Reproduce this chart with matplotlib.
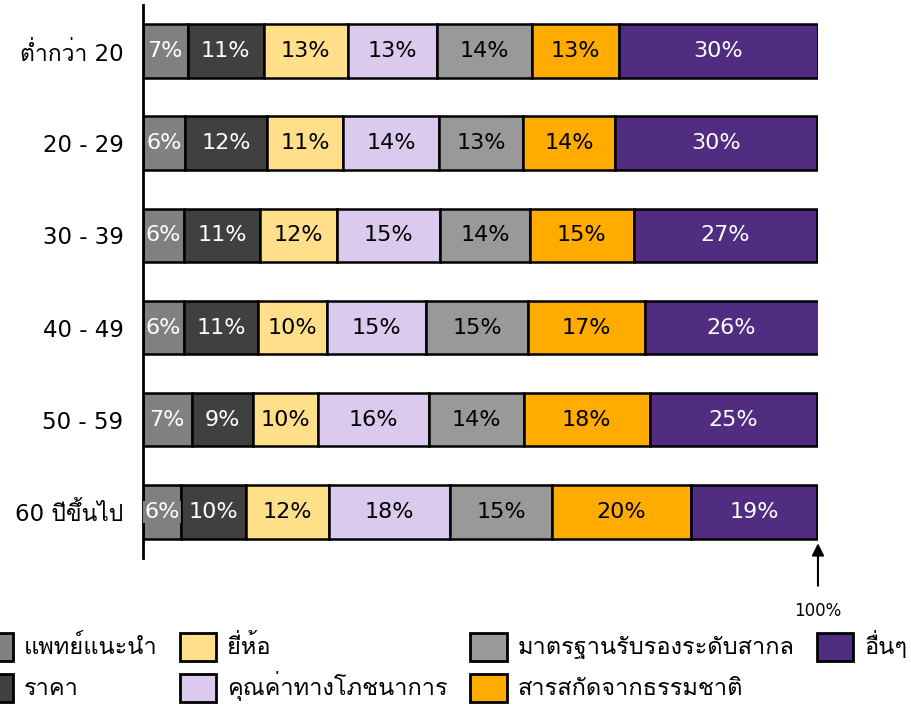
import matplotlib
matplotlib.use('Agg')
import matplotlib.pyplot as plt
from matplotlib import font_manager
from matplotlib.container import BarContainer
from matplotlib.legend_handler import HandlerPatch
from matplotlib.patches import Rectangle
from fontTools.ttLib import TTFont

# หา font ที่มีตัวอักษรไทย
thai_fonts = []
for f in font_manager.fontManager.ttflist:
    try:
        cmap = TTFont(f.fname, fontNumber=0, lazy=True).getBestCmap()
        if cmap and 0x0E01 in cmap and f.name not in thai_fonts:
            thai_fonts.append(f.name)
    except Exception:
        pass
plt.rcParams['font.family'] = ['DejaVu Sans'] + thai_fonts[:1]

groups = ['ต่ำกว่า 20', '20 - 29', '30 - 39', '40 - 49', '50 - 59', '60 ปีขึ้นไป']
factors = ['แพทย์แนะนำ', 'ราคา', 'ยี่ห้อ', 'คุณค่าทางโภชนาการ',
           'มาตรฐานรับรองระดับสากล', 'สารสกัดจากธรรมชาติ', 'อื่นๆ']
colors = ['#808080', '#404040', '#FFDF8A', '#DACAEE', '#999999', '#FFAB00', '#502D80']
text_colors = ['white', 'white', 'black', 'black', 'black', 'black', 'white']

# bar widths (%), one list per factor
shares = [
    [6.6, 6.2, 6.1, 6.1, 7.2, 5.7],
    [11.3, 12.2, 11.2, 10.9, 9.1, 9.6],
    [12.4, 11.3, 11.4, 10.2, 9.7, 12.2],
    [13.2, 14.1, 15.3, 14.8, 16.3, 18.0],
    [14.1, 12.5, 13.3, 15.0, 14.1, 15.1],
    [12.9, 13.6, 15.4, 17.3, 18.7, 20.6],
    [29.5, 30.0, 27.2, 25.8, 24.8, 18.6],
]
# labels printed on the bars
shown = [
    [7, 6, 6, 6, 7, 6],
    [11, 12, 11, 11, 9, 10],
    [13, 11, 12, 10, 10, 12],
    [13, 14, 15, 15, 16, 18],
    [14, 13, 14, 15, 14, 15],
    [13, 14, 15, 17, 18, 20],
    [30, 30, 27, 26, 25, 19],
]

fig = plt.figure(figsize=(9.12, 7.08), dpi=100)
ax = fig.add_axes([0.1568, 0.2119, 0.7401, 0.7811])

y = list(range(len(groups)))
left = [0] * len(groups)
for i, name in enumerate(factors):
    ax.barh(y, shares[i], left=left, height=0.58, color=colors[i],
            edgecolor='black', linewidth=1.8, label=name)
    for j in y:
        kw = {}
        if i == 0:
            kw['bbox'] = dict(facecolor=colors[i], edgecolor='none', pad=1)
        ax.text(left[j] + shares[i][j] / 2, j, f'{shown[i][j]}%', ha='center', va='center',
                fontsize=16, color=text_colors[i], **kw)
    left = [a + b for a, b in zip(left, shares[i])]

ax.set_xlim(0, 100)
ax.set_ylim(5.5, -0.5)
ax.set_yticks(y)
ax.set_yticklabels(groups, fontsize=16.5)
ax.tick_params(axis='y', length=0, pad=14)
ax.set_xticks([])
for s in ['top', 'right', 'bottom']:
    ax.spines[s].set_visible(False)
ax.spines['left'].set_linewidth(2)

ax.annotate('100%', xy=(100, 5.34), xytext=(100, 6.08), ha='center', va='center',
            fontsize=12, annotation_clip=False,
            arrowprops=dict(arrowstyle='-|>', color='black', lw=1.5, mutation_scale=18,
                            shrinkA=10, shrinkB=0))


# legend square smaller than its box so every row has the same height
def square(legend, orig_handle, xdescent, ydescent, width, height, fontsize):
    h = 1.19 * fontsize
    return Rectangle((-xdescent, -ydescent + (height - h) / 2), width, h)


def first_bar(handle, orig):
    handle.update_from(orig.patches[0])


leg = fig.legend(loc='upper left', bbox_to_anchor=(-0.026, 0.113), ncol=4, frameon=False,
                 fontsize=17, handlelength=1.55, handleheight=2.1, handletextpad=0.47,
                 columnspacing=0.93, labelspacing=0.12, borderaxespad=0, borderpad=0,
                 handler_map={BarContainer: HandlerPatch(patch_func=square,
                                                         update_func=first_bar)})
for h in leg.legend_handles:
    h.set_linewidth(2)

fig.savefig('out.png', dpi=100)
